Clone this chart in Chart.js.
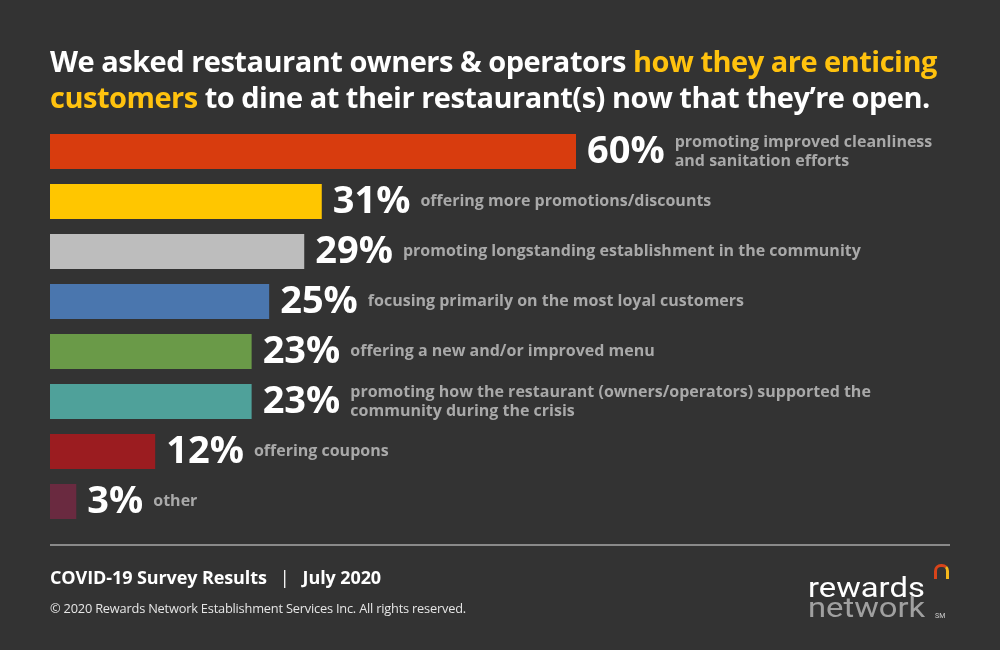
<!DOCTYPE html>
<html>
<head>
<meta charset="utf-8">
<script src="https://cdn.jsdelivr.net/npm/chart.js@4"></script>
<style>
  html, body { margin: 0; padding: 0; background: #333333; }
  #wrap { position: relative; width: 1000px; height: 650px; overflow: hidden; font-family: 'Open Sans', sans-serif; }
  #chart { position: absolute; left: 0; top: 0; }
  .title { position: absolute; left: 50px; top: 43px; width: 940px; color: #fff; font-weight: 700; font-size: 29px; line-height: 36px; letter-spacing: -0.5px; }
  .title .hl { color: #FFC20E; }
  .rule { position: absolute; left: 50px; top: 544px; width: 900px; height: 2px; background: #8a8a8a; }
  .foot1 { position: absolute; left: 50px; top: 565px; color: #fff; font-weight: 700; font-size: 18px; letter-spacing: -0.1px; }
  .foot1 .bar { margin: 0 13px; font-weight: 400; }
  .foot2 { position: absolute; left: 50px; top: 599px; color: #e6e6e6; font-size: 12.8px; letter-spacing: -0.2px; }
  .logo { position: absolute; left: 808px; font-family: 'Roboto', sans-serif; font-weight: 400; font-size: 28px; line-height: 28px; transform: scaleX(1.17); transform-origin: left top; white-space: nowrap; }
  .logo.r { top: 574px; color: #fff; }
  .logo.n { top: 594px; color: #a0a0a0; }
  .sm { position: absolute; left: 935px; top: 612px; font-family: 'Roboto', sans-serif; font-size: 7px; color: #cfcfcf; }
  .mark { position: absolute; left: 934px; top: 564px; width: 9px; height: 12px; border: 3.5px solid #D8441A; border-right-color: #F5B81C; border-bottom: none; border-radius: 7px 7px 0 0; }
</style>
</head>
<body>
<div id="wrap">
  <canvas id="chart" width="1000" height="650"></canvas>
  <div class="title">We asked restaurant owners &amp; operators <span class="hl">how they are enticing customers</span> to dine at their restaurant(s) now that they’re open.</div>
  <div class="rule"></div>
  <div class="foot1">COVID-19 Survey Results<span class="bar">|</span>July 2020</div>
  <div class="foot2">© 2020 Rewards Network Establishment Services Inc. All rights reserved.</div>
  <div class="mark"></div>
  <div class="logo r">rewards</div>
  <div class="logo n">network</div>
  <div class="sm">SM</div>
</div>
<script>
// Survey answers, top to bottom
const categories = [
  ['promoting improved cleanliness', 'and sanitation efforts'],
  ['offering more promotions/discounts'],
  ['promoting longstanding establishment in the community'],
  ['focusing primarily on the most loyal customers'],
  ['offering a new and/or improved menu'],
  ['promoting how the restaurant (owners/operators) supported the', 'community during the crisis'],
  ['offering coupons'],
  ['other']
];
const values = [60, 31, 29, 25, 23, 23, 12, 3];
const barColors = ['#D83C0E', '#FFC600', '#BDBDBD', '#4A76AE', '#6A9A48', '#4FA19A', '#9B1C20', '#6A2A40'];

// Draws "NN%" plus the description next to each bar
const barLabels = {
  id: 'barLabels',
  afterDatasetsDraw(chart) {
    const ctx = chart.ctx;
    const meta = chart.getDatasetMeta(0);
    ctx.save();
    ctx.textBaseline = 'middle';
    meta.data.forEach((bar, i) => {
      let x = bar.x + 11;
      const y = bar.y;
      ctx.font = 'bold 38px "Open Sans", sans-serif';
      ctx.fillStyle = '#ffffff';
      const pct = values[i] + '%';
      ctx.fillText(pct, x, y + 1);
      x += ctx.measureText(pct).width + 10;
      ctx.font = 'bold 16px "Open Sans", sans-serif';
      ctx.fillStyle = '#a9a9a9';
      const lines = categories[i];
      const lh = 19;
      lines.forEach((line, j) => {
        ctx.fillText(line, x, y + (j - (lines.length - 1) / 2) * lh);
      });
    });
    ctx.restore();
  }
};

const pxPerPct = 526 / 60;
new Chart(document.getElementById('chart'), {
  type: 'bar',
  data: {
    labels: categories.map(c => c.join(' ')),
    datasets: [{
      data: values,
      backgroundColor: barColors,
      borderWidth: 0,
      barPercentage: 0.7,
      categoryPercentage: 1.0
    }]
  },
  options: {
    indexAxis: 'y',
    responsive: false,
    animation: false,
    layout: { padding: { left: 50, right: 1000 - 50 - 100 * pxPerPct, top: 126.5, bottom: 650 - 526.5 } },
    plugins: { legend: { display: false }, tooltip: { enabled: false } },
    scales: {
      x: { display: false, min: 0, max: 100 },
      y: { display: false }
    }
  },
  plugins: [barLabels]
});
</script>
</body>
</html>
